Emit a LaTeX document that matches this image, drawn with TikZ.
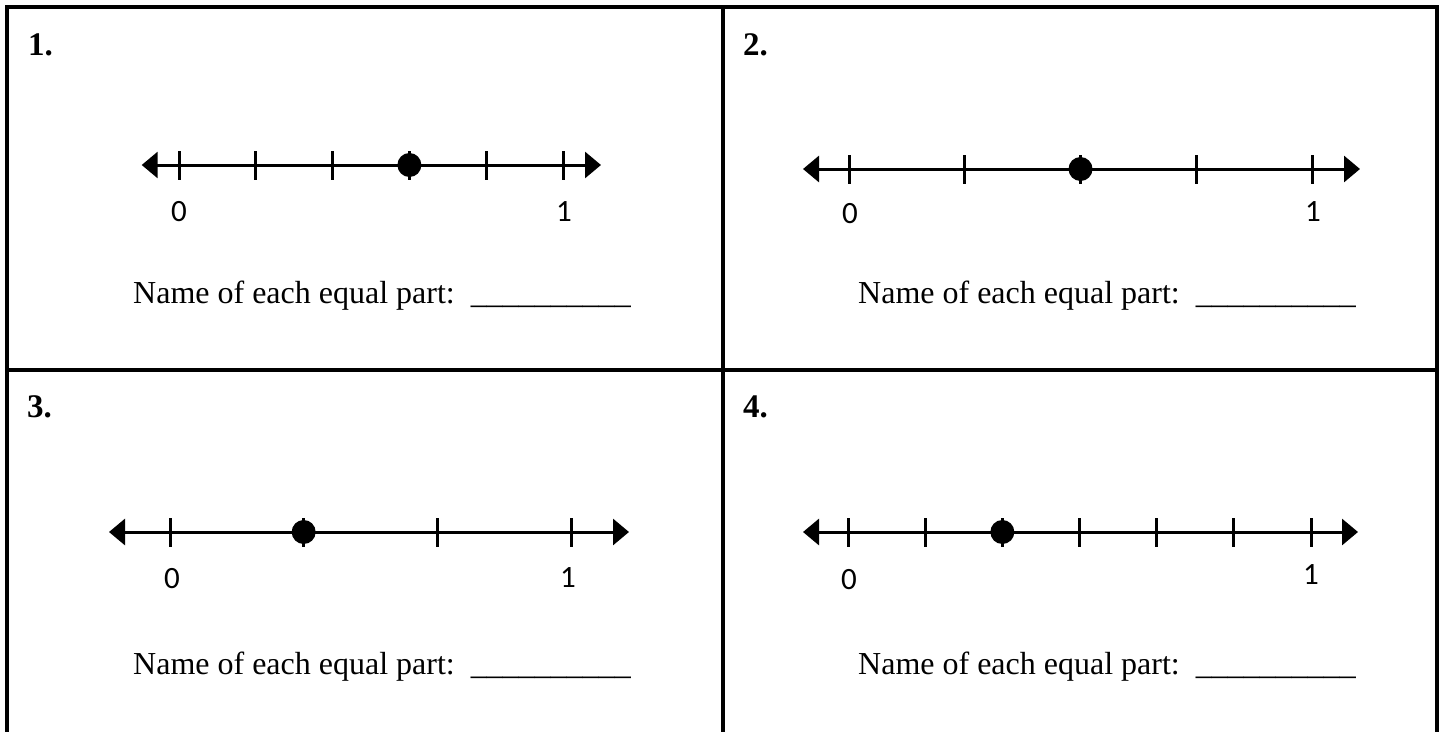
\documentclass[tikz,border=0pt]{standalone}
\usepackage{fontspec}
\setmainfont{Liberation Serif}
\newfontfamily\numfont{Carlito}
\usetikzlibrary{arrows.meta}
\tikzset{
  frame/.style={line width=4pt, line cap=rect, line join=miter},
  axis/.style={line width=3pt, {Triangle[length=16pt,width=26pt]}-{Triangle[length=16pt,width=26pt]}},
  tick/.style={line width=3pt},
  dotmark/.style={fill=black},
  qnum/.style={anchor=base west, inner sep=0pt, font=\fontsize{33}{38}\selectfont\bfseries},
  ends/.style={inner sep=0pt, font=\fontsize{31}{36}\selectfont\numfont},
  prompt/.style={anchor=base west, inner sep=0pt, font=\fontsize{32}{38}\selectfont}
}
\newcommand{\numline}[8]{% y, x0, step, n, dot, lefttip, righttip, prefix
  \draw[axis] (#6,#1) -- (#7,#1);
  \foreach \k in {0,...,#4} {\draw[tick] ({#2+\k*#3},#1-14) -- ({#2+\k*#3},#1+15);}
  \fill[dotmark] ({#2+#5*#3},#1) circle (12);
}
\begin{document}
\begin{tikzpicture}[x=1pt,y=-1pt]
\useasboundingbox (0,0) rectangle (1445,731);
% frame
\draw[frame] (7,731) -- (7,7) -- (1436.7,7) -- (1436.7,731);
\draw[frame] (722.7,7) -- (722.7,731);
\draw[frame] (7,370.3) -- (1436.7,370.3);
% quadrant labels
\node[qnum] (q1) at (28,55) {1.};
\node[qnum] (q2) at (743,55) {2.};
\node[qnum] (q3) at (27,417) {3.};
\node[qnum] (q4) at (743,417) {4.};
% number lines
\numline{165}{179}{76.8}{5}{3}{141.7}{601}{a}
\numline{169}{849}{115.75}{4}{2}{803}{1360}{b}
\numline{532}{170}{133.67}{3}{1}{109}{629}{c}
\numline{532}{848}{77.17}{6}{2}{803}{1358}{d}
% end labels
\node[ends] (a0) at (179,212) {0};
\node[ends] (a1) at (564,212) {1};
\node[ends] (b0) at (850,214) {0};
\node[ends] (b1) at (1313,212) {1};
\node[ends] (c0) at (172,579) {0};
\node[ends] (c1) at (568,578) {1};
\node[ends] (d0) at (849,580) {0};
\node[ends] (d1) at (1311,575) {1};
% prompts
\node[prompt] (p1) at (133,303) {Name of each equal part:\hspace{16pt}\_\_\_\_\_\_\_\_\_\_};
\node[prompt] (p2) at (858,303) {Name of each equal part:\hspace{16pt}\_\_\_\_\_\_\_\_\_\_};
\node[prompt] (p3) at (133,674) {Name of each equal part:\hspace{16pt}\_\_\_\_\_\_\_\_\_\_};
\node[prompt] (p4) at (858,674) {Name of each equal part:\hspace{16pt}\_\_\_\_\_\_\_\_\_\_};
\end{tikzpicture}
\end{document}
